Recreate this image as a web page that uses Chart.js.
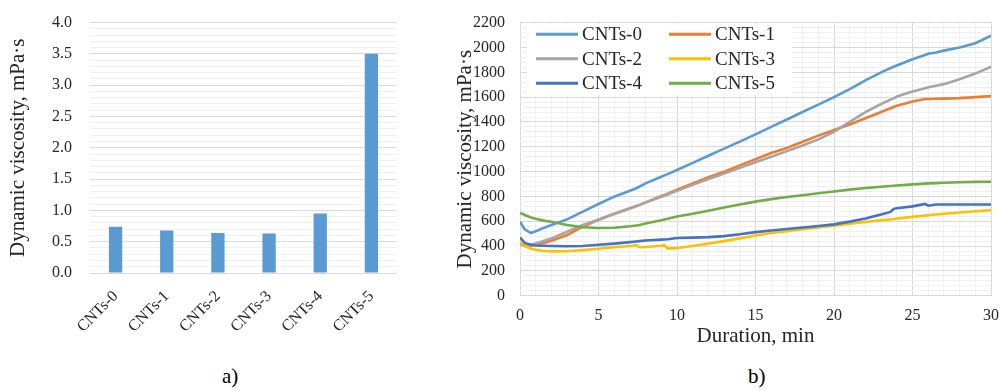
<!DOCTYPE html>
<html>
<head>
<meta charset="utf-8">
<script src="https://cdn.jsdelivr.net/npm/chart.js@4.4.1/dist/chart.umd.min.js"></script>
<style>
  body { margin: 0; background: #fff; width: 1001px; height: 390px; position: relative; overflow: hidden; }
  canvas { position: absolute; top: 0; }
  #barCanvas { left: 0; }
  #lineCanvas { left: 440px; }
  .caption { position: absolute; top: 365px; font: 21px "Liberation Serif", "Times New Roman", serif; color: #000; line-height: 1.1; }
</style>
</head>
<body>
<canvas id="barCanvas" width="420" height="350"></canvas>
<canvas id="lineCanvas" width="561" height="350"></canvas>
<div class="caption" style="left:222px;">a)</div>
<div class="caption" style="left:748px;">b)</div>
<script>
// a) viscosity of each sample
const categories = ['CNTs-0', 'CNTs-1', 'CNTs-2', 'CNTs-3', 'CNTs-4', 'CNTs-5'];
const barValues = [0.74, 0.68, 0.64, 0.63, 0.95, 3.5];

// b) viscosity vs time, min
const durationMin = [0, 0.3, 0.7, 1, 1.5, 2, 3, 4, 5, 6, 7, 7.4, 7.6, 8, 9, 9.2, 9.4, 10, 11, 12, 13, 14, 15,
  16, 17, 18, 19, 20, 21, 22, 23, 23.6, 23.8, 24, 25, 25.8, 26, 26.5, 27, 28, 29, 30];
const cnts0 = [596, 535, 505, 520, 545, 570, 615, 677, 739, 798, 846, 866, 878, 905, 959, 970, 980, 1013, 1070, 1128, 1185, 1242, 1300,
  1360, 1420, 1480, 1540, 1600, 1665, 1735, 1800, 1835, 1845, 1855, 1905, 1940, 1950, 1960, 1975, 2000, 2035, 2095];
const cnts1 = [415, 405, 405, 410, 425, 443, 489, 556, 612, 660, 705, 723, 732, 752, 803, 812, 822, 855, 905, 955, 1000, 1050, 1100,
  1150, 1190, 1240, 1290, 1335, 1380, 1430, 1480, 1510, 1520, 1530, 1565, 1585, 1585, 1587, 1588, 1592, 1600, 1608];
const cnts2 = [420, 410, 410, 420, 440, 462, 516, 570, 612, 658, 702, 720, 730, 750, 798, 806, 815, 845, 893, 940, 985, 1030, 1075,
  1120, 1165, 1210, 1260, 1320, 1400, 1480, 1545, 1580, 1590, 1605, 1645, 1672, 1680, 1692, 1705, 1745, 1790, 1845];
const cnts3 = [430, 400, 378, 370, 360, 357, 358, 367, 378, 390, 400, 408, 390, 392, 402, 408, 380, 385, 400, 420, 440, 462, 485,
  505, 520, 535, 550, 565, 580, 595, 608, 615, 618, 622, 635, 645, 648, 654, 660, 670, 680, 690];
const cnts4 = [470, 425, 410, 405, 402, 400, 398, 400, 410, 420, 432, 437, 440, 445, 452, 453, 455, 465, 468, 472, 480, 495, 512,
  525, 538, 550, 562, 575, 597, 622, 655, 675, 700, 705, 720, 740, 725, 735, 735, 735, 735, 735];
const cnts5 = [668, 650, 630, 620, 605, 596, 570, 551, 545, 548, 560, 566, 570, 582, 608, 614, 620, 638, 660, 685, 710, 735, 758,
  778, 795, 810, 825, 840, 855, 868, 878, 884, 886, 888, 897, 903, 905, 907, 910, 914, 917, 918];

const seriesNames = ['CNTs-0', 'CNTs-1', 'CNTs-2', 'CNTs-3', 'CNTs-4', 'CNTs-5'];
const seriesValues = [cnts0, cnts1, cnts2, cnts3, cnts4, cnts5];
const seriesColors = ['#5B9BD5', '#ED7D31', '#A5A5A5', '#FFC000', '#4472C4', '#70AD47'];

const SERIF = '"Liberation Serif", "Times New Roman", serif';
const TEXT = '#262626';
const MAJOR = '#d9d9d9';
const MINOR = '#f0f0f0';

Chart.defaults.font.family = SERIF;
Chart.defaults.color = TEXT;

// fixed axis boxes so the plot areas land where the original has them
const fixBox = (w, h) => s => {
  if (w) s.width = w;
  if (h) s.height = h;
  s.paddingTop = 0;
  s.paddingBottom = 0;
  s.paddingLeft = 0;
  s.paddingRight = 0;
};

new Chart(document.getElementById('barCanvas'), {
  type: 'bar',
  data: {
    labels: categories,
    datasets: [{
      data: barValues,
      backgroundColor: '#5B9BD5',
      categoryPercentage: 1,
      barPercentage: 0.26
    }]
  },
  options: {
    responsive: false,
    animation: false,
    devicePixelRatio: 1,
    layout: { padding: { top: 22.5, right: 23, left: 0, bottom: 0 } },
    plugins: { legend: { display: false }, tooltip: { enabled: false } },
    scales: {
      x: {
        grid: { display: false },
        border: { display: false },
        ticks: { font: { size: 16 }, maxRotation: 45, minRotation: 45, padding: 6 },
        afterFit: fixBox(0, 77)
      },
      y: {
        min: 0,
        max: 4,
        border: { display: false },
        grid: {
          drawTicks: false,
          color: c => Math.round(c.tick.value * 10) % 5 === 0 ? MAJOR : MINOR
        },
        ticks: {
          stepSize: 0.1,
          autoSkip: false,
          padding: 18,
          font: { size: 16 },
          callback: v => Math.round(v * 10) % 5 === 0 ? v.toFixed(1) : ''
        },
        title: { display: true, text: 'Dynamic viscosity, mPa·s', font: { size: 21 }, padding: { top: 6, bottom: 0 } },
        afterFit: fixBox(90, 0)
      }
    }
  }
});

// legend drawn inside the plot, two columns like the original
const legendInPlot = {
  id: 'legendInPlot',
  beforeDatasetsDraw(chart) {
    const { ctx, chartArea } = chart;
    ctx.save();
    ctx.fillStyle = '#fff';
    ctx.fillRect(chartArea.left + 7, chartArea.top + 1.5, 265, 71);
    ctx.font = '19px ' + SERIF;
    ctx.textBaseline = 'middle';
    chart.data.datasets.forEach((ds, i) => {
      const lx = chartArea.left + 16 + (i % 2) * 133;
      const ly = chartArea.top + 11.5 + Math.floor(i / 2) * 24.5;
      ctx.strokeStyle = ds.borderColor;
      ctx.lineWidth = 3;
      ctx.beginPath();
      ctx.moveTo(lx, ly);
      ctx.lineTo(lx + 42, ly);
      ctx.stroke();
      ctx.fillStyle = TEXT;
      ctx.fillText(ds.label, lx + 46, ly + 1);
    });
    ctx.restore();
  }
};

new Chart(document.getElementById('lineCanvas'), {
  type: 'line',
  data: {
    datasets: seriesNames.map((name, i) => ({
      label: name,
      data: durationMin.map((t, j) => ({ x: t, y: seriesValues[i][j] })),
      borderColor: seriesColors[i],
      borderWidth: 2.6,
      pointRadius: 0,
      tension: 0,
      order: 5 - i
    }))
  },
  plugins: [legendInPlot],
  options: {
    responsive: false,
    animation: false,
    devicePixelRatio: 1,
    layout: { padding: { top: 22.7, right: 10, left: 0, bottom: 0 } },
    plugins: { legend: { display: false }, tooltip: { enabled: false } },
    scales: {
      x: {
        type: 'linear',
        min: 0,
        max: 30,
        border: { display: false },
        grid: {
          drawTicks: false,
          color: c => c.tick.value % 5 === 0 ? MAJOR : MINOR
        },
        ticks: {
          stepSize: 1,
          autoSkip: false,
          maxRotation: 0,
          padding: 10,
          font: { size: 16 },
          callback: v => v % 5 === 0 ? v : ''
        },
        title: { display: true, text: 'Duration, min', font: { size: 21 }, padding: { top: 0, bottom: 1 } },
        afterFit: fixBox(0, 54.3)
      },
      y: {
        min: 0,
        max: 2200,
        border: { display: false },
        grid: {
          drawTicks: false,
          color: c => c.tick.value % 200 === 0 ? MAJOR : MINOR
        },
        ticks: {
          stepSize: 40,
          autoSkip: false,
          padding: 15,
          font: { size: 16 },
          callback: v => v % 200 === 0 ? v : ''
        },
        title: { display: true, text: 'Dynamic viscosity, mPa·s', font: { size: 21 }, padding: { top: 13, bottom: 0 } },
        afterFit: fixBox(80, 0)
      }
    }
  }
});
</script>
</body>
</html>
